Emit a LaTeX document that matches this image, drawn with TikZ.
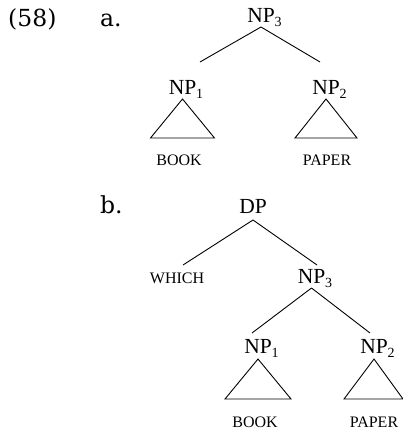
\documentclass[tikz,border=0pt]{standalone}
\usepackage{fontspec}
\setmainfont{Liberation Serif}
\newfontfamily\numfont{DejaVu Serif}
\newcommand\sbx[1]{\rlap{\raisebox{-4pt}{\fontsize{14}{14}\selectfont #1}}}
\tikzset{
  cat/.style={inner sep=0pt, anchor=base, font=\fontsize{21.5}{21.5}\selectfont},
  word/.style={inner sep=0pt, anchor=base, font=\fontsize{16}{16}\selectfont},
  exlab/.style={inner sep=0pt, anchor=base west, font=\numfont\fontsize{23.5}{23.5}\selectfont},
  edge/.style={line width=0.9pt},
  tri/.style={line width=0.9pt, line join=miter}
}
\begin{document}
\begin{tikzpicture}[x=1pt,y=-1pt]
\useasboundingbox (0,0) rectangle (403,430);
% labels
\node[exlab] (ex) at (8,27) {(58)};
\node[exlab] (la) at (100,27) {a.};
\node[exlab] (lb) at (100,213) {b.};
% tree a
\node[cat] (np3a) at (261,23) {NP\sbx{3}};
\node[cat] (np1a) at (182.5,95) {NP\sbx{1}};
\node[cat] (np2a) at (326,95) {NP\sbx{2}};
\node[word] (booka) at (179,166) {BOOK};
\node[word] (papera) at (327,166) {PAPER};
\coordinate (ea1) at (200,62);
\coordinate (ea2) at (320,62);
\draw[edge] ([yshift=-4pt]np3a.base) -- (ea1);
\draw[edge] ([yshift=-4pt]np3a.base) -- (ea2);
\draw[tri] ([yshift=-4pt]np1a.base) -- ++(-32,39) -- ++(64,0) -- cycle;
\draw[tri] ([yshift=-4pt]np2a.base) -- ++(-31,39) -- ++(62,0) -- cycle;
% tree b
\node[cat] (dp) at (253,213) {DP};
\node[word] (which) at (177,283) {WHICH};
\node[cat] (np3b) at (311.5,283) {NP\sbx{3}};
\node[cat] (np1b) at (258,353) {NP\sbx{1}};
\node[cat] (np2b) at (374,353) {NP\sbx{2}};
\node[word] (bookb) at (255,427) {BOOK};
\node[word] (paperb) at (374,427) {PAPER};
\coordinate (eb1) at (183,265);
\coordinate (eb2) at (317,265);
\coordinate (eb3) at (252,333);
\coordinate (eb4) at (370,333);
\draw[edge] ([yshift=-7pt]dp.base) -- (eb1);
\draw[edge] ([yshift=-7pt]dp.base) -- (eb2);
\draw[edge] ([yshift=-5pt]np3b.base) -- (eb3);
\draw[edge] ([yshift=-5pt]np3b.base) -- (eb4);
\draw[tri] ([yshift=-6pt]np1b.base) -- ++(-33,40) -- ++(66,0) -- cycle;
\draw[tri] ([yshift=-6pt]np2b.base) -- ++(-30,40) -- ++(59,0) -- cycle;
\end{tikzpicture}
\end{document}
